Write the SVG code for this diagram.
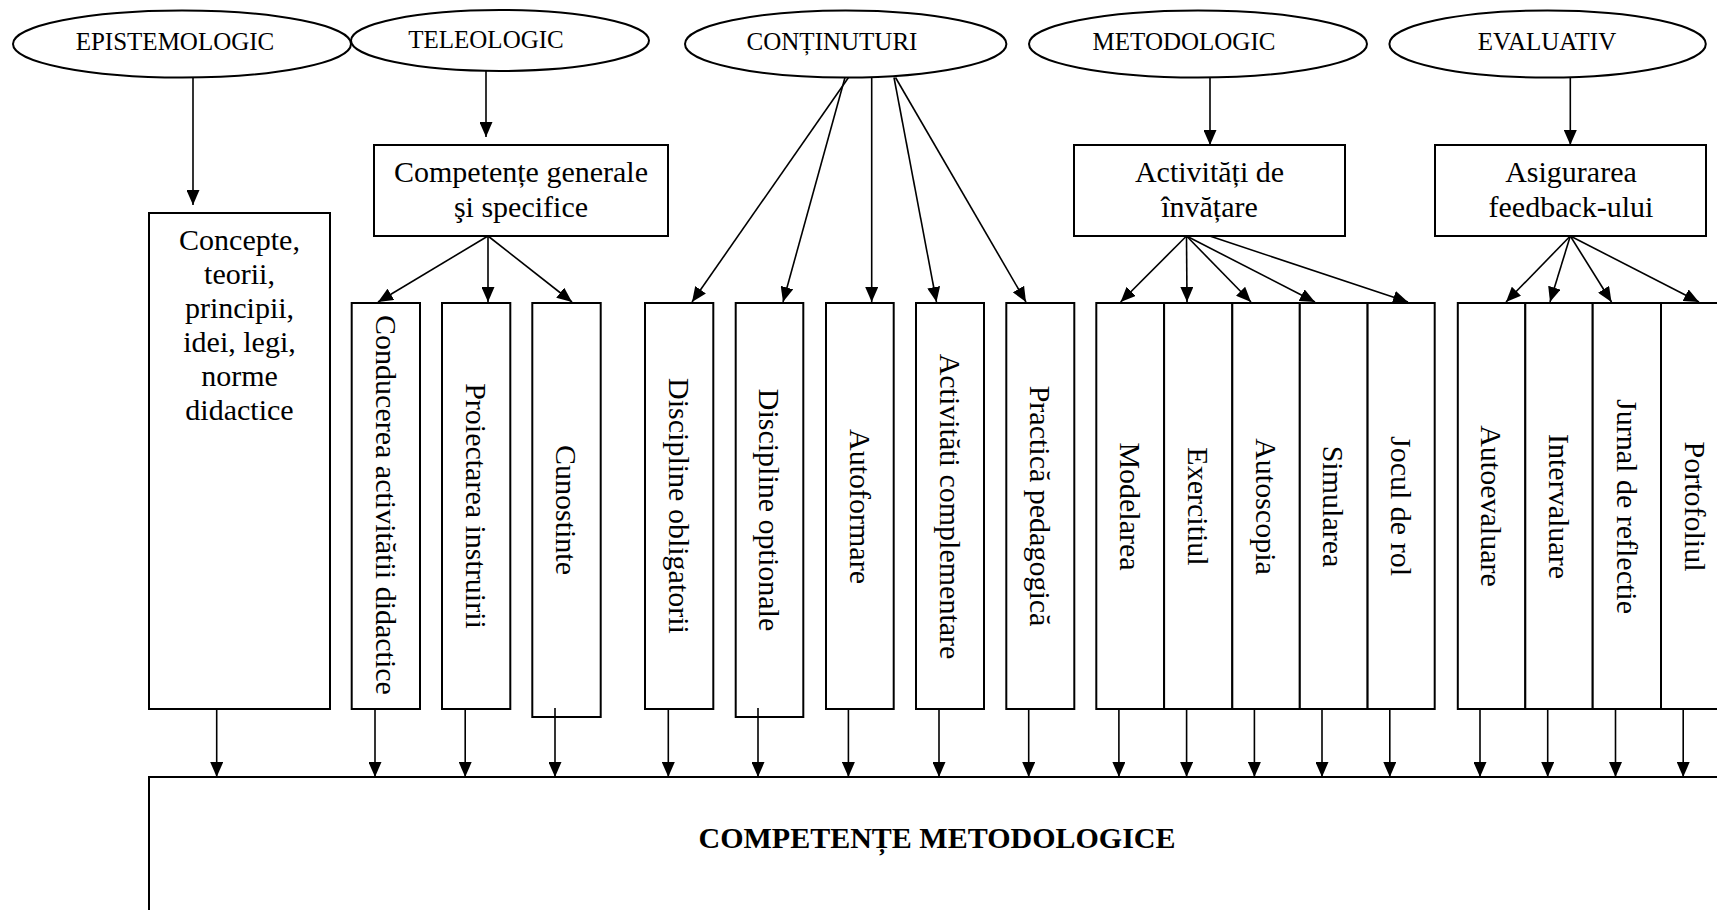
<svg xmlns="http://www.w3.org/2000/svg" width="1717" height="910" viewBox="0 0 1717 910">
<style>
text{font-family:"Liberation Serif","Times New Roman",serif;fill:#000}
.el{fill:#fff;stroke:#000;stroke-width:2}
.bx{fill:#fff;stroke:#000;stroke-width:2}
.et{font-size:25px;text-anchor:middle}
.bt{font-size:30px;text-anchor:middle}
.vt{font-size:30px;text-anchor:middle;dominant-baseline:central}
.ct{font-size:30px;font-weight:bold;text-anchor:middle}
.cn{stroke:#000;stroke-width:1.6;fill:none;marker-end:url(#ah)}
</style>
<defs>
<marker id="ah" markerUnits="userSpaceOnUse" markerWidth="15" markerHeight="13" refX="15" refY="6.5" orient="auto">
<path d="M0,0 L15,6.5 L0,13 z" fill="#000"/>
</marker>
</defs>
<rect width="1717" height="910" fill="#fff"/>

<g id="bottom">
<rect class="bx" x="149" y="777" width="1620" height="200"/>
<text class="ct" x="937" y="848">COMPETENȚE METODOLOGICE</text>
</g>

<g id="epistemologic"><ellipse class="el" cx="182" cy="44" rx="169" ry="33.5"/><text class="et" x="175" y="50">EPISTEMOLOGIC</text></g>
<g id="teleologic"><ellipse class="el" cx="500" cy="40.5" rx="149" ry="30.5"/><text class="et" x="486" y="48">TELEOLOGIC</text></g>
<g id="continuturi"><ellipse class="el" cx="845.7" cy="44" rx="160.7" ry="33.5"/><text class="et" x="832" y="50">CONȚINUTURI</text></g>
<g id="metodologic"><ellipse class="el" cx="1198" cy="44" rx="169" ry="33.5"/><text class="et" x="1184" y="50">METODOLOGIC</text></g>
<g id="evaluativ"><ellipse class="el" cx="1547.6" cy="44" rx="158.2" ry="33.5"/><text class="et" x="1547" y="50">EVALUATIV</text></g>

<g id="concepte"><rect class="bx" x="149" y="213" width="181" height="496"/>
<text class="bt" x="239.5"><tspan x="239.5" y="250">Concepte,</tspan><tspan x="239.5" y="284">teorii,</tspan><tspan x="239.5" y="318">principii,</tspan><tspan x="239.5" y="352">idei, legi,</tspan><tspan x="239.5" y="386">norme</tspan><tspan x="239.5" y="420">didactice</tspan></text></g>

<g id="competente"><rect class="bx" x="374" y="145" width="294" height="91"/>
<text class="bt"><tspan x="521" y="182">Competențe generale</tspan><tspan x="521" y="217">şi specifice</tspan></text></g>

<g id="activitati"><rect class="bx" x="1074" y="145" width="271" height="91"/>
<text class="bt"><tspan x="1209.5" y="182">Activități de</tspan><tspan x="1209.5" y="217">învățare</tspan></text></g>

<g id="asigurarea"><rect class="bx" x="1435" y="145" width="271" height="91"/>
<text class="bt"><tspan x="1571" y="182">Asigurarea</tspan><tspan x="1571" y="217">feedback-ului</tspan></text></g>

<g id="conducerea"><rect class="bx" x="351.7" y="303" width="68.3" height="406"/><text class="vt" transform="translate(386,505) rotate(90)">Conducerea activitătii didactice</text></g>
<g id="proiectarea"><rect class="bx" x="442" y="303" width="68.3" height="406"/><text class="vt" transform="translate(476,506) rotate(90)">Proiectarea instruirii</text></g>
<g id="cunostinte"><rect class="bx" x="532.3" y="303" width="68.4" height="414"/><text class="vt" transform="translate(566.5,510) rotate(90)">Cunostinte</text></g>
<g id="discipline-obligatorii"><rect class="bx" x="645" y="303" width="68.3" height="406"/><text class="vt" transform="translate(679,506) rotate(90)">Discipline obligatorii</text></g>
<g id="discipline-optionale"><rect class="bx" x="735.7" y="303" width="67.6" height="414"/><text class="vt" transform="translate(769.5,510) rotate(90)">Discipline optionale</text></g>
<g id="autoformare"><rect class="bx" x="826" y="303" width="67.7" height="406"/><text class="vt" transform="translate(860,506.5) rotate(90)">Autoformare</text></g>
<g id="activitati-complementare"><rect class="bx" x="916" y="303" width="68" height="406"/><text class="vt" transform="translate(950,506.5) rotate(90)">Activităti complementare</text></g>
<g id="practica"><rect class="bx" x="1006.3" y="303" width="68" height="406"/><text class="vt" transform="translate(1040.3,506) rotate(90)">Practică pedagogică</text></g>

<g id="modelarea"><rect class="bx" x="1096.3" y="303" width="67.8" height="406"/><text class="vt" transform="translate(1130,506.5) rotate(90)">Modelarea</text></g>
<g id="exercitiul"><rect class="bx" x="1164.1" y="303" width="68.2" height="406"/><text class="vt" transform="translate(1198,506.5) rotate(90)">Exercitiul</text></g>
<g id="autoscopia"><rect class="bx" x="1232.3" y="303" width="67.5" height="406"/><text class="vt" transform="translate(1266,506.5) rotate(90)">Autoscopia</text></g>
<g id="simularea"><rect class="bx" x="1299.8" y="303" width="67.8" height="406"/><text class="vt" transform="translate(1333.7,506.5) rotate(90)">Simularea</text></g>
<g id="jocul"><rect class="bx" x="1367.6" y="303" width="67.1" height="406"/><text class="vt" transform="translate(1401,506) rotate(90)">Jocul de rol</text></g>

<g id="autoevaluare"><rect class="bx" x="1457.8" y="303" width="67.5" height="406"/><text class="vt" transform="translate(1491.5,506) rotate(90)">Autoevaluare</text></g>
<g id="intervaluare"><rect class="bx" x="1525.3" y="303" width="67.4" height="406"/><text class="vt" transform="translate(1559,506.5) rotate(90)">Intervaluare</text></g>
<g id="jurnal"><rect class="bx" x="1592.7" y="303" width="68.3" height="406"/><text class="vt" transform="translate(1627,506.5) rotate(90)">Jurnal de reflectie</text></g>
<g id="portofoliul"><rect class="bx" x="1661" y="303" width="68" height="406"/><text class="vt" transform="translate(1695,506.5) rotate(90)">Portofoliul</text></g>

<g id="connectors">
<line class="cn" x1="193" y1="77.5" x2="193" y2="205"/>
<line class="cn" x1="486" y1="71" x2="486" y2="137"/>
<line class="cn" x1="1210" y1="77.5" x2="1210" y2="145"/>
<line class="cn" x1="1570.3" y1="77.5" x2="1570.3" y2="145"/>

<line class="cn" x1="488" y1="236" x2="378" y2="302"/>
<line class="cn" x1="488" y1="236" x2="488" y2="302"/>
<line class="cn" x1="488" y1="236" x2="572" y2="302"/>

<line class="cn" x1="848.5" y1="77.5" x2="692" y2="302"/>
<line class="cn" x1="845" y1="77.5" x2="783" y2="302"/>
<line class="cn" x1="871.7" y1="77.5" x2="871.7" y2="302"/>
<line class="cn" x1="894" y1="77.5" x2="936.5" y2="302"/>
<line class="cn" x1="895.5" y1="77.5" x2="1026" y2="302"/>

<line class="cn" x1="1186.5" y1="236" x2="1120.6" y2="302"/>
<line class="cn" x1="1186.5" y1="236" x2="1187" y2="302"/>
<line class="cn" x1="1186.5" y1="236" x2="1251" y2="302"/>
<line class="cn" x1="1186.5" y1="236" x2="1315" y2="302"/>
<line class="cn" x1="1209.7" y1="236" x2="1408" y2="302"/>

<line class="cn" x1="1570.3" y1="236" x2="1506" y2="302"/>
<line class="cn" x1="1570.3" y1="236" x2="1550" y2="302"/>
<line class="cn" x1="1570.3" y1="236" x2="1611.5" y2="302"/>
<line class="cn" x1="1570.3" y1="236" x2="1699" y2="302"/>

<line class="cn" x1="216.7" y1="709" x2="216.7" y2="777"/>
<line class="cn" x1="375" y1="709" x2="375" y2="777"/>
<line class="cn" x1="465.2" y1="709" x2="465.2" y2="777"/>
<line class="cn" x1="555" y1="708" x2="555" y2="777"/>
<line class="cn" x1="668.3" y1="709" x2="668.3" y2="777"/>
<line class="cn" x1="758" y1="708" x2="758" y2="777"/>
<line class="cn" x1="848.4" y1="709" x2="848.4" y2="777"/>
<line class="cn" x1="939" y1="709" x2="939" y2="777"/>
<line class="cn" x1="1028.7" y1="709" x2="1028.7" y2="777"/>
<line class="cn" x1="1118.9" y1="709" x2="1118.9" y2="777"/>
<line class="cn" x1="1186.6" y1="709" x2="1186.6" y2="777"/>
<line class="cn" x1="1254.4" y1="709" x2="1254.4" y2="777"/>
<line class="cn" x1="1322" y1="709" x2="1322" y2="777"/>
<line class="cn" x1="1389.8" y1="709" x2="1389.8" y2="777"/>
<line class="cn" x1="1480" y1="709" x2="1480" y2="777"/>
<line class="cn" x1="1547.7" y1="709" x2="1547.7" y2="777"/>
<line class="cn" x1="1615.5" y1="709" x2="1615.5" y2="777"/>
<line class="cn" x1="1683.2" y1="709" x2="1683.2" y2="777"/>
</g>
</svg>
